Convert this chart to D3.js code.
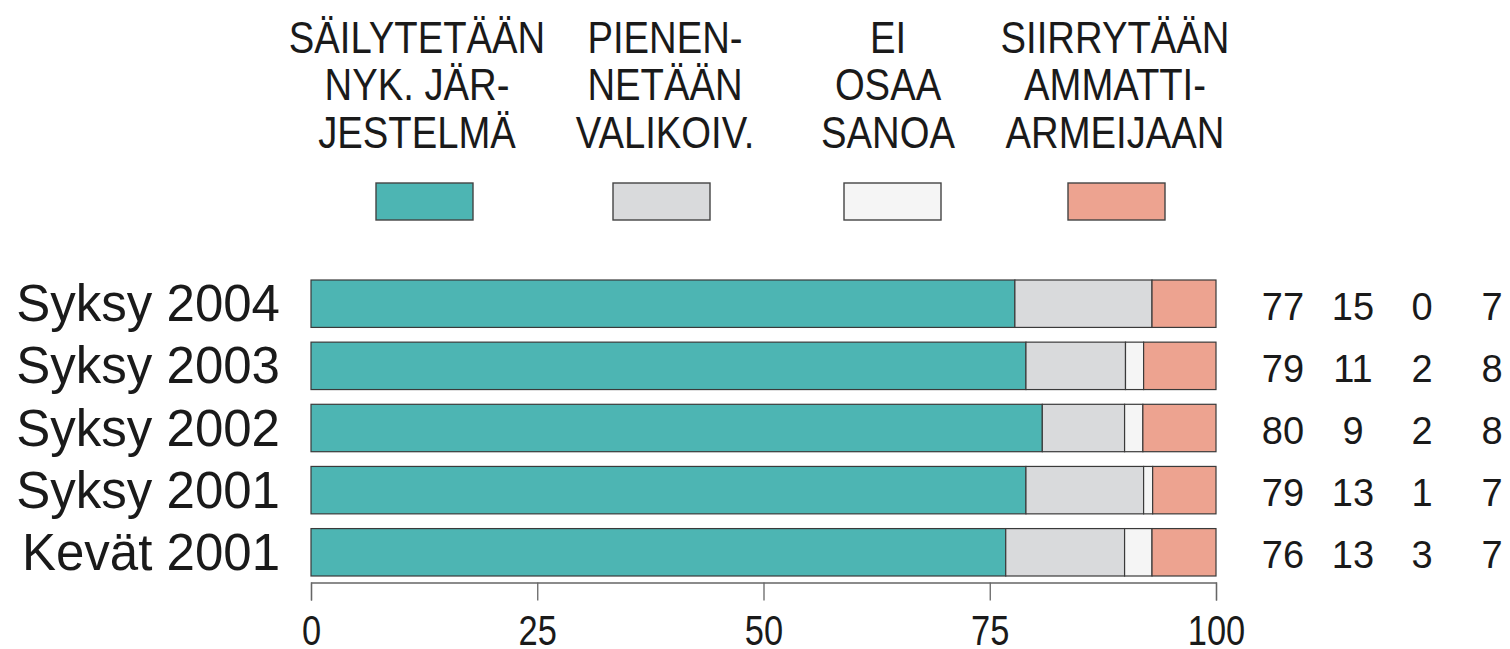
<!DOCTYPE html>
<html>
<head>
<meta charset="utf-8">
<script src="https://cdn.jsdelivr.net/npm/d3@7"></script>
<style>
  html, body { margin: 0; padding: 0; background: #fff; }
  svg { display: block; }
</style>
</head>
<body>
<svg id="chart" width="1510" height="649"></svg>
<script>
// ---- data ----
const categories = ["Syksy 2004", "Syksy 2003", "Syksy 2002", "Syksy 2001", "Kevät 2001"];
const seriesNames = ["SÄILYTETÄÄN NYK. JÄRJESTELMÄ", "PIENENNETÄÄN VALIKOIV.", "EI OSAA SANOA", "SIIRRYTÄÄN AMMATTIARMEIJAAN"];
const legendLines = [
  ["SÄILYTETÄÄN", "NYK. JÄR-", "JESTELMÄ"],
  ["PIENEN-", "NETÄÄN", "VALIKOIV."],
  ["EI", "OSAA", "SANOA"],
  ["SIIRRYTÄÄN", "AMMATTI-", "ARMEIJAAN"]
];
const sailytetaan = [77, 79, 80, 79, 76];
const pienennetaan = [15, 11, 9, 13, 13];
const eiOsaa = [0, 2, 2, 1, 3];
const siirrytaan = [7, 8, 8, 7, 7];
const xTicks = [0, 25, 50, 75, 100];
const colors = ["#4db5b3", "#d9dadc", "#f5f5f5", "#eda390"];

// ---- layout ----
const svg = d3.select("#chart");
const regular = "'Liberation Sans', Arial, Helvetica, sans-serif";
const textColor = "#1a1a1a";
const condense = 0.85;

const x = d3.scaleLinear().domain([0, 100]).range([311, 1216]);
const y = d3.scaleBand().domain(categories).range([280, 576]).paddingInner(0.237).paddingOuter(0);

const rows = categories.map((c, i) => {
  const vals = [sailytetaan[i], pienennetaan[i], eiOsaa[i], siirrytaan[i]];
  const total = d3.sum(vals);
  let acc = 0;
  const segs = vals.map((v, k) => {
    const s = { k, x0: acc / total * 100, x1: (acc + v) / total * 100 };
    acc += v;
    return s;
  });
  return { c, vals, segs };
});

// bars
const g = svg.append("g");
rows.forEach(r => {
  g.selectAll(null)
    .data(r.segs.filter(s => s.x1 > s.x0))
    .enter().append("rect")
    .attr("x", s => x(s.x0))
    .attr("y", y(r.c))
    .attr("width", s => x(s.x1) - x(s.x0))
    .attr("height", y.bandwidth())
    .attr("fill", s => colors[s.k])
    .attr("stroke", "#3a3a3a")
    .attr("stroke-width", 1.2);
});

// category labels
svg.append("g").selectAll("text")
  .data(categories)
  .enter().append("text")
  .attr("x", 280)
  .attr("y", d => y(d) + y.bandwidth() / 2 + 17.5)
  .attr("text-anchor", "end")
  .attr("font-family", regular)
  .attr("font-size", 51)
  .attr("fill", textColor)
  .text(d => d);

// value columns
const valueX = [1283, 1353, 1422, 1492];
rows.forEach(r => {
  svg.append("g").selectAll("text")
    .data(r.vals)
    .enter().append("text")
    .attr("x", (v, k) => valueX[k])
    .attr("y", y(r.c) + y.bandwidth() / 2 + 16)
    .attr("text-anchor", "middle")
    .attr("font-family", regular)
    .attr("font-size", 38)
    .attr("fill", textColor)
    .text(v => v);
});

// x axis
const axis = d3.axisBottom(x).tickValues(xTicks).tickSize(18).tickPadding(18).tickFormat(d3.format("d"));
const ax = svg.append("g").attr("transform", "translate(0,582.5)").call(axis);
ax.select(".domain").attr("stroke", "#666").attr("stroke-width", 1.3);
ax.selectAll(".tick line").attr("stroke", "#666").attr("stroke-width", 1.3);
ax.selectAll(".tick text")
  .attr("font-family", regular)
  .attr("font-size", 42)
  .attr("fill", textColor)
  .attr("dy", null)
  .attr("x", 0)
  .attr("y", 0)
  .attr("transform", `translate(0,62) scale(0.82,1)`);

// legend
const legendTextX = [417, 665, 888, 1115];
const swatchX = [376, 613, 844, 1068];
const lineY = [53, 100, 148];
const lg = svg.append("g");
legendLines.forEach((lines, k) => {
  lg.append("g").selectAll("text")
    .data(lines)
    .enter().append("text")
    .attr("transform", (d, j) => `translate(${legendTextX[k]},${lineY[j]}) scale(${condense},1)`)
    .attr("text-anchor", "middle")
    .attr("font-family", regular)
    .attr("font-size", 45)
    .attr("fill", textColor)
    .text(d => d);
  lg.append("rect")
    .attr("x", swatchX[k])
    .attr("y", 183)
    .attr("width", 97)
    .attr("height", 37)
    .attr("fill", colors[k])
    .attr("stroke", "#444")
    .attr("stroke-width", 1.4)
    .append("title").text(seriesNames[k]);
});
</script>
</body>
</html>
